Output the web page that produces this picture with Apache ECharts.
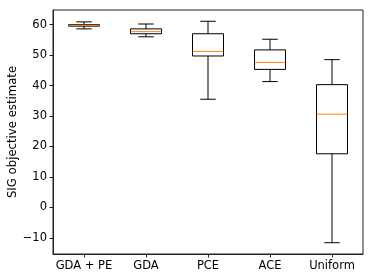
<!DOCTYPE html>
<html><head><meta charset="utf-8">
<script src="https://cdn.jsdelivr.net/npm/echarts@6/dist/echarts.min.js"></script>
<style>html,body{margin:0;padding:0;background:#fff}#c{width:374px;height:280px}</style>
</head><body><div id="c"></div>
<script>
const categories = ['GDA + PE', 'GDA', 'PCE', 'ACE', 'Uniform'];
const whiskerLow = [58.6, 56.0, 35.5, 41.3, -11.6];
const q1 = [59.5, 57.0, 49.7, 45.3, 17.6];
const medians = [59.8, 57.7, 51.2, 47.6, 30.6];
const q3 = [60.0, 58.6, 57.0, 51.7, 40.3];
const whiskerHigh = [60.9, 60.2, 61.1, 55.2, 48.5];
const yTicks = [-10, 0, 10, 20, 30, 40, 50, 60];

const data = categories.map((c, i) => [i, whiskerLow[i], q1[i], medians[i], q3[i], whiskerHigh[i]]);
const FONT = 'DejaVu Sans';

function renderItem(params, api) {
  const i = api.value(0);
  const band = api.size([1, 0])[0];
  const pLow = api.coord([i, api.value(1)]);
  const pQ1 = api.coord([i, api.value(2)]);
  const pMed = api.coord([i, api.value(3)]);
  const pQ3 = api.coord([i, api.value(4)]);
  const pHigh = api.coord([i, api.value(5)]);
  const x = pMed[0];
  const hw = band * 0.25, cw = band * 0.125;
  const s = {stroke: '#000', lineWidth: 1, fill: null};
  return {type: 'group', children: [
    {type: 'line', shape: {x1: x, y1: pQ1[1], x2: x, y2: pLow[1]}, style: s},
    {type: 'line', shape: {x1: x, y1: pQ3[1], x2: x, y2: pHigh[1]}, style: s},
    {type: 'line', shape: {x1: x - cw, y1: pLow[1], x2: x + cw, y2: pLow[1]}, style: s},
    {type: 'line', shape: {x1: x - cw, y1: pHigh[1], x2: x + cw, y2: pHigh[1]}, style: s},
    {type: 'rect', shape: {x: x - hw, y: pQ3[1], width: hw * 2, height: pQ1[1] - pQ3[1]}, style: {stroke: '#000', lineWidth: 1, fill: 'none'}},
    {type: 'line', shape: {x1: x - hw, y1: pMed[1], x2: x + hw, y2: pMed[1]}, style: {stroke: '#ff7f0e', lineWidth: 1}}
  ]};
}

const chart = echarts.init(document.getElementById('c'), null, {renderer: 'canvas'});
chart.setOption({
  animation: false,
  backgroundColor: '#fff',
  grid: {left: 53, right: 11, top: 10, bottom: 26, containLabel: false, outerBoundsMode: 'none',
    show: true, borderColor: '#222', borderWidth: 1, backgroundColor: 'transparent'},
  xAxis: {
    type: 'category', data: categories, boundaryGap: true,
    axisLine: {show: true, onZero: false, lineStyle: {color: '#222'}},
    axisTick: {show: true, alignWithLabel: true, length: 3.5, interval: 0, lineStyle: {color: '#222'}},
    axisLabel: {color: '#000', fontFamily: FONT, fontSize: 11.5, margin: 6, interval: 0, hideOverlap: false},
    splitLine: {show: false}
  },
  yAxis: {
    type: 'value', min: -15.3, max: 64.8,
    name: 'SIG objective estimate', nameLocation: 'middle', nameGap: 34, nameRotate: 90, nameMoveOverlap: false,
    nameTextStyle: {color: '#000', fontFamily: FONT, fontSize: 11.7},
    axisLine: {show: true, lineStyle: {color: '#222'}},
    axisTick: {show: true, length: 3.5, customValues: yTicks, lineStyle: {color: '#222'}},
    axisLabel: {color: '#000', fontFamily: FONT, fontSize: 11.5, margin: 6, customValues: yTicks,
      formatter: v => (v < 0 ? '\u2212' + Math.abs(v) : String(v))},
    splitLine: {show: false}
  },
  series: [{
    type: 'custom', renderItem: renderItem, data: data,
    encode: {x: 0, y: [1, 2, 3, 4, 5]}, clip: false
  }]
});
</script></body></html>
